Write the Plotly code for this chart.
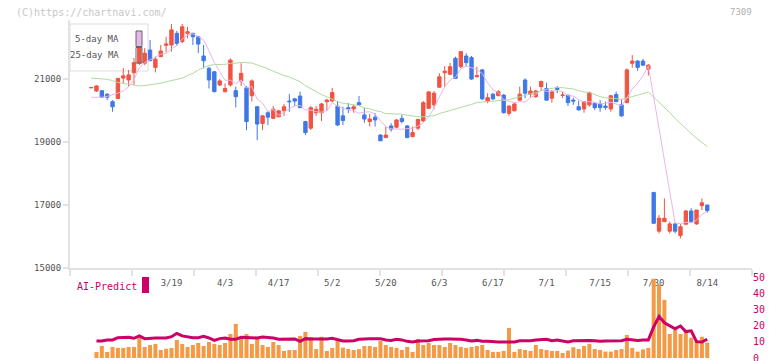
import plotly.graph_objects as go
import pandas as pd

# ---------------- data ----------------
opens = [20720, 20620, 20630, 20520, 20280, 20380, 21030, 20970, 21200, 21500,
         21500, 21920, 21370, 21710, 22070, 22080, 22450, 22190, 22450, 22450,
         22340, 21730, 21340, 21230, 20810, 20600, 20810, 20630, 20940, 20720,
         20470, 20120, 19590, 19930, 19750, 19800, 19990, 20300, 20370, 20460,
         19650, 19440, 19930, 19930, 20280, 20300, 20140, 19830, 20090, 20050,
         20250, 19860, 19650, 19790, 19220, 19140, 19510, 19470, 19750, 19510,
         19170, 19440, 19670, 20070, 20180, 20740, 21200, 21150, 21660, 21390,
         21730, 21680, 21070, 21290, 20300, 20520, 20470, 20490, 19910, 19990,
         20330, 20970, 20520, 20440, 20760, 20700, 20390, 20720, 20480, 20490,
         20330, 20120, 20050, 20180, 20230, 20210, 20140, 20050, 20510, 20180,
         20250, 21500, 21570, 21570, 21310, 17400, 16170, 16470, 16170, 16400,
         16030, 16390, 16810, 16400, 16980, 17000]
highs = [20740, 20810, 20650, 20550, 20330, 21030, 21350, 21290, 21670, 22330,
         21980, 22240, 21710, 22080, 22340, 22750, 22530, 22750, 22660, 22470,
         22370, 22080, 21390, 21250, 21000, 20860, 21660, 20760, 21500, 20780,
         20990, 20140, 19860, 19990, 20140, 20020, 20210, 20520, 20400, 20600,
         19670, 20140, 20140, 20240, 20370, 20720, 20300, 20120, 20240, 20180,
         20460, 20080, 19890, 19920, 19250, 19490, 19600, 19730, 19860, 19540,
         19490, 19730, 20300, 20620, 20620, 21180, 21410, 21510, 21710, 21890,
         21820, 21730, 21390, 21320, 20550, 20560, 20650, 20520, 20170, 20240,
         20760, 21020, 20760, 20650, 20950, 20880, 20650, 20780, 20600, 20490,
         20410, 20310, 20300, 20600, 20250, 20330, 20280, 20490, 20600, 20360,
         21340, 21760, 21600, 21640, 21480, 17410, 16680, 17210, 16470, 16440,
         16400, 16840, 16900, 16840, 17210, 17000]
lows = [20710, 20590, 20390, 20330, 19960, 20370, 20870, 20760, 20810, 21440,
        21440, 21570, 21210, 21700, 21850, 21870, 22050, 22130, 22290, 22080,
        21830, 21340, 20700, 20570, 20780, 20570, 20760, 20100, 20780, 19380,
        20280, 19060, 19380, 19540, 19730, 19790, 19830, 19960, 20140, 20080,
        19220, 19380, 19830, 19670, 19990, 20270, 19510, 19540, 19920, 19930,
        20140, 19610, 19490, 19490, 19030, 19130, 19330, 19440, 19590, 19130,
        19160, 19380, 19640, 20050, 20040, 20720, 20760, 21130, 21000, 21350,
        21410, 20970, 21050, 20330, 20230, 20330, 20460, 19910, 19830, 19980,
        20300, 20390, 20410, 20400, 20620, 20320, 20250, 20550, 20390, 20140,
        20180, 20000, 19930, 20120, 20020, 19960, 20020, 19960, 20270, 19800,
        20230, 21360, 21260, 21410, 21110, 16400, 16100, 16460, 16100, 16100,
        15940, 16370, 16440, 16370, 16840, 16760]
closes = [20730, 20780, 20420, 20420, 20120, 21020, 21100, 21130, 21520, 22020,
          21820, 21580, 21630, 21890, 22110, 22560, 22130, 22660, 22500, 22340,
          22110, 21580, 20970, 20600, 20940, 20700, 21600, 20440, 21180, 19650,
          20940, 19570, 19830, 19790, 20040, 19990, 20120, 20280, 20300, 20090,
          19300, 20090, 20040, 20210, 20330, 20570, 19540, 19680, 20040, 20120,
          20180, 19730, 19730, 19700, 19040, 19220, 19410, 19700, 19650, 19140,
          19300, 19720, 20250, 20590, 20550, 21070, 21250, 21390, 21020, 21870,
          21520, 21000, 21110, 20370, 20410, 20370, 20600, 19930, 20140, 20210,
          20520, 20550, 20620, 20620, 20920, 20330, 20600, 20670, 20490, 20250,
          20300, 20020, 20280, 20570, 20090, 20090, 20100, 20470, 20280, 19830,
          21290, 21570, 21370, 21440, 21440, 16420, 16580, 16580, 16400, 16170,
          16310, 16810, 16470, 16840, 17070, 16820]

# moving-average values before enough closes exist
ma5_head = [20420, 20420, 20420, 20450]
ma25_head = [21030, 21020, 21010, 20990, 20950, 20890, 20860, 20830, 20790, 20780,
             20790, 20810, 20840, 20870, 20910, 20950, 20990, 21030, 21110, 21180,
             21290, 21350, 21430, 21460]

volume = [None, 3.8, 7.5, 3.8, 6.9, 6.3, 6.3, 6.9, 6.9, 12.7,
          6.9, 8.1, 8.8, 5.0, 5.8, 6.3, 11.3, 8.8, 6.9, 8.1,
          9.4, 7.5, 10.0, 8.8, 8.1, 9.4, 15.0, 21.3, 11.9, 15.0,
          8.8, 11.9, 8.1, 6.9, 10.0, 8.1, 4.4, 5.0, 5.0, 13.8,
          16.3, 13.1, 5.6, 13.3, 4.4, 6.3, 11.3, 6.5, 5.6, 5.0,
          5.6, 7.5, 7.5, 6.9, 10.8, 8.1, 6.9, 6.3, 5.0, 6.9,
          3.8, 11.9, 8.1, 9.4, 8.1, 8.1, 6.9, 9.4, 8.1, 6.9,
          6.3, 6.9, 7.5, 8.1, 5.0, 3.8, 3.8, 4.4, 18.8, 3.8,
          5.6, 5.0, 4.4, 8.1, 5.6, 5.0, 4.4, 4.4, 3.1, 4.6,
          6.7, 5.6, 7.5, 8.8, 5.6, 5.0, 4.0, 4.0, 5.0, 5.6,
          14.4, 6.3, 4.0, 5.4, 6.3, 49.5, 46.0, 36.3, 15.0, 17.5,
          15.0, 17.5, 12.7, 11.3, 13.3, 9.6]
ai_predict = [None, 10.6, 10.6, 11.3, 11.3, 12.7, 12.9, 12.9, 12.3, 13.8,
              12.1, 12.5, 12.5, 12.5, 12.5, 13.3, 15.4, 13.8, 13.3, 12.7,
              12.7, 13.5, 12.5, 11.0, 12.1, 12.5, 11.7, 11.7, 12.9, 12.9,
              12.5, 12.5, 13.1, 12.9, 12.5, 11.7, 11.7, 11.7, 11.9, 10.4,
              12.1, 11.9, 11.9, 11.7, 11.9, 12.3, 11.3, 10.6, 10.6, 10.8,
              11.7, 12.1, 12.1, 12.1, 12.1, 11.3, 11.0, 11.7, 11.3, 10.4,
              10.0, 10.6, 10.6, 10.8, 11.5, 11.9, 11.9, 11.9, 11.9, 11.7,
              11.3, 10.6, 11.0, 10.4, 10.4, 10.0, 10.0, 10.0, 10.0, 10.0,
              10.8, 10.8, 10.8, 11.3, 11.3, 11.7, 10.8, 11.3, 10.6, 10.0,
              10.8, 11.0, 11.0, 11.0, 10.8, 10.4, 10.6, 10.6, 10.6, 10.8,
              11.7, 11.3, 11.0, 11.3, 11.3, 19.4, 26.0, 22.0, 20.2, 18.3,
              20.0, 16.5, 17.0, 10.2, 10.0, 11.7]

tick_labels = ["3/19", "4/3", "4/17", "5/2", "5/20", "6/3", "6/17", "7/1", "7/15", "7/30", "8/14"]
tick_index = [15, 25, 35, 45, 55, 65, 75, 85, 95, 105, 115]
price_ticks = [15000, 17000, 19000, 21000]
sub_ticks = [0, 10, 20, 30, 40, 50]

# ---------------- derived series ----------------
n = len(closes)
xs = list(range(n))
cs = pd.Series(closes, dtype=float)
ma5 = ma5_head + cs.rolling(5).mean().tolist()[len(ma5_head):]
ma25 = ma25_head + cs.rolling(25).mean().tolist()[len(ma25_head):]

# ---------------- style ----------------
RED = "#f05442"
BLUE = "#3f78e6"
PINK = "#e9b6ea"
GREEN = "#b2d9a0"
CRIMSON = "#cc0066"
ORANGE = "#f29a45"
AXIS = "#e2e2e2"
TXT = "#555555"
MONO = "DejaVu Sans Mono"

W, H = 772, 361
L, R, T, B = 70, 20, 20, 3
PW, PH = W - L - R, H - T - B


def px(x):
    return (x - L) / PW


def py(y):
    return (H - B - y) / PH


fig = go.Figure()

fig.add_trace(go.Scatter(x=xs, y=ma25, mode="lines", line=dict(color=GREEN, width=1),
                         xaxis="x", yaxis="y", hoverinfo="skip"))
fig.add_trace(go.Scatter(x=xs, y=ma5, mode="lines", line=dict(color=PINK, width=1),
                         xaxis="x", yaxis="y", hoverinfo="skip"))
fig.add_trace(go.Candlestick(
    x=xs, open=opens, high=highs, low=lows, close=closes,
    increasing=dict(line=dict(color=RED, width=1), fillcolor=RED),
    decreasing=dict(line=dict(color=BLUE, width=1), fillcolor=BLUE),
    whiskerwidth=0, xaxis="x", yaxis="y"))

fig.add_trace(go.Bar(x=xs, y=volume, marker=dict(color=ORANGE, line=dict(width=0)),
                     xaxis="x2", yaxis="y2"))
fig.add_trace(go.Scatter(x=xs, y=ai_predict, mode="lines", line=dict(color=CRIMSON, width=3),
                         xaxis="x2", yaxis="y2"))

x_range = [-3.94, 123.35]
fig.update_layout(
    width=W, height=H,
    margin=dict(l=L, r=R, t=T, b=B, autoexpand=False),
    paper_bgcolor="white", plot_bgcolor="white",
    showlegend=False, bargap=0.25, boxgap=0.1,
    font=dict(family=MONO, size=9, color=TXT),
    xaxis=dict(domain=[0, 1], anchor="y", range=x_range, rangeslider=dict(visible=False),
               tickmode="array", tickvals=tick_index, ticktext=tick_labels,
               ticks="", showgrid=False, zeroline=False, automargin=False,
               showline=True, linecolor=AXIS, linewidth=2, ticklabelstandoff=5,
               tickfont=dict(family=MONO, size=9, color=TXT),
               minor=dict(tickmode="linear", tick0=7.634, dtick=11.571, ticks="outside",
                          ticklen=6, tickcolor=AXIS, tickwidth=2, showgrid=False)),
    yaxis=dict(domain=[py(268), 1], anchor="x", range=[15000, 22874], automargin=False,
               tickmode="array", tickvals=price_ticks, ticktext=[str(v) for v in price_ticks],
               ticks="outside", ticklen=5, tickcolor=AXIS, tickwidth=2,
               showgrid=False, zeroline=False, showline=True, linecolor=AXIS, linewidth=2,
               tickfont=dict(family=MONO, size=9, color=TXT)),
    xaxis2=dict(domain=[0, 1], anchor="y2", matches="x", showticklabels=False, automargin=False,
                ticks="", showgrid=False, zeroline=False, showline=False),
    yaxis2=dict(domain=[0, py(277)], anchor="x2", range=[0, 50.6], side="right", automargin=False,
                tickmode="array", tickvals=sub_ticks, ticks="", ticklabeloverflow="allow",
                showgrid=False, zeroline=False, showline=False,
                tickfont=dict(family=MONO, size=10, color=CRIMSON)),
)

shapes = [
    # legend box
    dict(type="rect", xref="paper", yref="paper", x0=px(70), x1=px(148), y0=py(71), y1=py(24),
         line=dict(color="#dddddd", width=1), fillcolor="white", layer="below"),
    dict(type="rect", xref="paper", yref="paper", x0=px(136), x1=px(142), y0=py(46.5), y1=py(31),
         line=dict(color="#666666", width=1), fillcolor=PINK, layer="above"),
    dict(type="rect", xref="paper", yref="paper", x0=px(136), x1=px(142), y0=py(63), y1=py(47.5),
         line=dict(color="#666666", width=1), fillcolor="rgba(0,0,0,0)", layer="above"),
    # AI-Predict marker
    dict(type="rect", xref="paper", yref="paper", x0=px(142), x1=px(149), y0=py(293), y1=py(277),
         line=dict(width=0), fillcolor=CRIMSON, layer="above"),
]
fig.update_layout(shapes=shapes)

ann = [
    dict(text="(C)https://chartnavi.com/", x=px(14), y=py(12), xanchor="left", yanchor="middle",
         font=dict(family=MONO, size=10, color="#c8c8c8")),
    dict(text="7309", x=px(754), y=py(12), xanchor="right", yanchor="middle",
         font=dict(family=MONO, size=9, color="#b0b0b0")),
    dict(text="5-day MA", x=px(121), y=py(39), xanchor="right", yanchor="middle",
         font=dict(family=MONO, size=9, color=TXT)),
    dict(text="25-day MA", x=px(121), y=py(55), xanchor="right", yanchor="middle",
         font=dict(family=MONO, size=9, color=TXT)),
    dict(text="AI-Predict", x=px(75), y=py(286), xanchor="left", yanchor="middle",
         font=dict(family=MONO, size=10, color=CRIMSON)),
]
for a in ann:
    a.update(xref="paper", yref="paper", showarrow=False)
fig.update_layout(annotations=ann)

fig.write_html("out.html", config={"displayModeBar": False},
               post_script="document.body.style.margin='0px';")
